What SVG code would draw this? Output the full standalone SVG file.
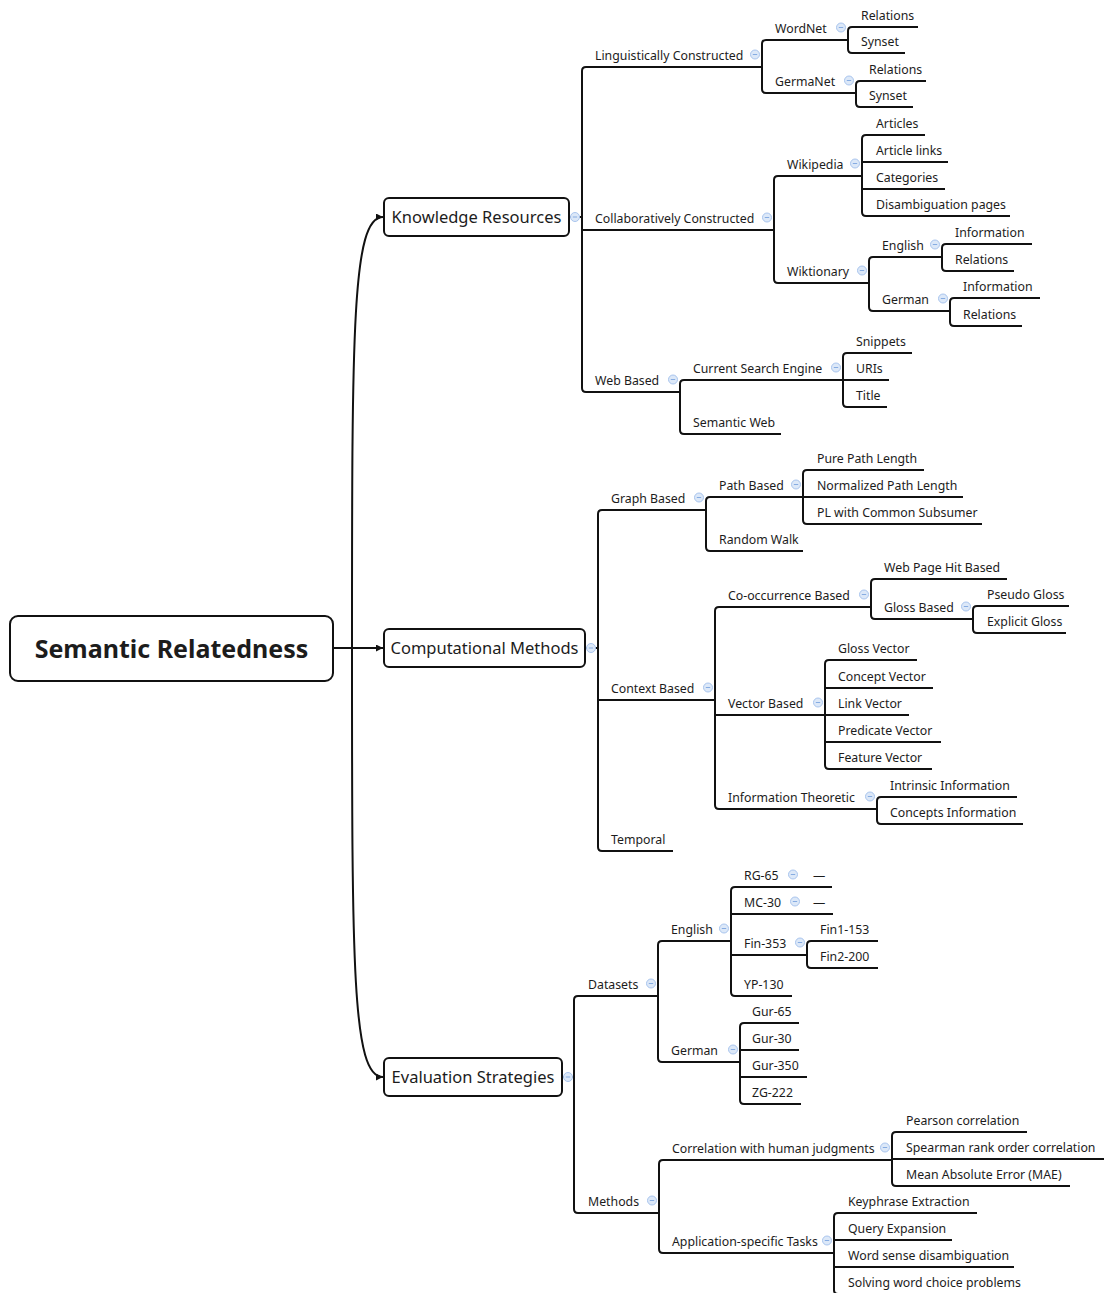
<svg xmlns="http://www.w3.org/2000/svg" xmlns:xlink="http://www.w3.org/1999/xlink" width="1104" height="1293" viewBox="0 0 1104 1293">
<style>
.t{font-family:"Noto Sans","Open Sans","DejaVu Sans",sans-serif;font-size:12.3px;fill:#1c1c1c}
.m{font-size:16.5px;text-anchor:middle}
.r{font-size:25px;font-weight:bold;text-anchor:middle}
.ln{fill:none;stroke:#111;stroke-width:2}
.box{fill:#fff;stroke:#111;stroke-width:2}
.ic circle{fill:#dce8f8;stroke:#a9c5ee;stroke-width:1}
.ic line{stroke:#86ace2;stroke-width:1}
</style>
<defs>
<marker id="arr" markerWidth="8" markerHeight="8" refX="7" refY="3.5" orient="auto" markerUnits="userSpaceOnUse"><path d="M0,0 L7,3.5 L0,7 z" fill="#111"/></marker>
<g id="ic" class="ic"><circle cx="0" cy="0" r="4.5"/><line x1="-2.2" y1="0" x2="2.2" y2="0"/></g>
</defs>
<rect width="1104" height="1293" fill="#fff"/>
<g id="connectors">
<path class="ln" marker-end="url(#arr)" d="M333,648 H383"/>
<path class="ln" marker-end="url(#arr)" d="M352,648 C352,330 352,217 383,217"/>
<path class="ln" marker-end="url(#arr)" d="M352,648 C352,966 352,1077 383,1077"/>
<path class="ln" d="M569,217 H582 M762,67 H586 Q582,67 582,71 V388 Q582,392 586,392 H680 M582,230 H774"/>
<path class="ln" d="M848,40 H766 Q762,40 762,44 V89 Q762,93 766,93 H856"/>
<path class="ln" d="M918,27 H852 Q848,27 848,31 V49 Q848,53 852,53 H905"/>
<path class="ln" d="M926,81 H860 Q856,81 856,85 V103 Q856,107 860,107 H913"/>
<path class="ln" d="M862,176 H778 Q774,176 774,180 V279 Q774,283 778,283 H869"/>
<path class="ln" d="M925,135 H866 Q862,135 862,139 V212 Q862,216 866,216 H1010 M862,162 H948 M862,189 H945"/>
<path class="ln" d="M942,257 H873 Q869,257 869,261 V307 Q869,311 873,311 H950"/>
<path class="ln" d="M1032,244 H946 Q942,244 942,248 V267 Q942,271 946,271 H1014"/>
<path class="ln" d="M1040,298 H954 Q950,298 950,302 V322 Q950,326 954,326 H1022"/>
<path class="ln" d="M843,380 H684 Q680,380 680,384 V430 Q680,434 684,434 H781"/>
<path class="ln" d="M912,353 H847 Q843,353 843,357 V403 Q843,407 847,407 H887 M843,380 H889"/>
<path class="ln" d="M585,648 H598 M706,510 H602 Q598,510 598,514 V847 Q598,851 602,851 H673 M598,700 H715"/>
<path class="ln" d="M803,497 H710 Q706,497 706,501 V547 Q706,551 710,551 H803"/>
<path class="ln" d="M924,470 H807 Q803,470 803,474 V520 Q803,524 807,524 H982 M803,497 H963"/>
<path class="ln" d="M871,607 H719 Q715,607 715,611 V805 Q715,809 719,809 H877 M715,715 H825"/>
<path class="ln" d="M1007,579 H875 Q871,579 871,583 V615 Q871,619 875,619 H973"/>
<path class="ln" d="M1069,606 H977 Q973,606 973,610 V629 Q973,633 977,633 H1066"/>
<path class="ln" d="M917,660 H829 Q825,660 825,664 V765 Q825,769 829,769 H932 M825,688 H933 M825,715 H909 M825,742 H941"/>
<path class="ln" d="M1017,797 H881 Q877,797 877,801 V820 Q877,824 881,824 H1023"/>
<path class="ln" d="M562,1077 H574 M658,996 H578 Q574,996 574,1000 V1209 Q574,1213 578,1213 H659"/>
<path class="ln" d="M731,941 H662 Q658,941 658,945 V1058 Q658,1062 662,1062 H740"/>
<path class="ln" d="M832,887 H735 Q731,887 731,891 V992 Q731,996 735,996 H792 M731,914 H833 M731,955 H807"/>
<path class="ln" d="M878,941 H811 Q807,941 807,945 V964 Q807,968 811,968 H878"/>
<path class="ln" d="M799,1023 H744 Q740,1023 740,1027 V1100 Q740,1104 744,1104 H801 M740,1050 H799 M740,1077 H807"/>
<path class="ln" d="M892,1160 H663 Q659,1160 659,1164 V1249 Q659,1253 663,1253 H834"/>
<path class="ln" d="M1027,1132 H896 Q892,1132 892,1136 V1182 Q892,1186 896,1186 H1070 M892,1159 H1104"/>
<path class="ln" d="M977,1213 H838 Q834,1213 834,1217 V1290 Q834,1294 838,1294 H1026 M834,1240 H952 M834,1267 H1014"/>
</g>
<g id="root"><rect class="box" x="10" y="616" width="323" height="65" rx="8"/><text class="t r" x="171.5" y="658">Semantic Relatedness</text></g>
<g id="kr"><rect class="box" x="384" y="198" width="185" height="38" rx="5"/><text class="t m" x="476.5" y="223">Knowledge Resources</text><use href="#ic" x="575" y="217"/></g>
<g id="cm"><rect class="box" x="384" y="629" width="201" height="38" rx="5"/><text class="t m" x="484.5" y="654">Computational Methods</text><use href="#ic" x="591" y="648"/></g>
<g id="es"><rect class="box" x="384" y="1058" width="178" height="38" rx="5"/><text class="t m" x="473" y="1083">Evaluation Strategies</text><use href="#ic" x="568" y="1077"/></g>

<g id="lc"><text class="t" x="595" y="59.5">Linguistically Constructed</text><use href="#ic" x="755" y="54.5"/></g>
<g id="wordnet"><text class="t" x="775" y="32.5">WordNet</text><use href="#ic" x="841" y="27.5"/></g>
<g id="wn-rel"><text class="t" x="861" y="19.5">Relations</text></g>
<g id="wn-syn"><text class="t" x="861" y="45.5">Synset</text></g>
<g id="germanet"><text class="t" x="775" y="85.5">GermaNet</text><use href="#ic" x="849" y="80.5"/></g>
<g id="gn-rel"><text class="t" x="869" y="73.5">Relations</text></g>
<g id="gn-syn"><text class="t" x="869" y="99.5">Synset</text></g>
<g id="cc"><text class="t" x="595" y="222.5">Collaboratively Constructed</text><use href="#ic" x="767" y="217.5"/></g>
<g id="wikipedia"><text class="t" x="787" y="168.5">Wikipedia</text><use href="#ic" x="855" y="163.5"/></g>
<g id="wp-art"><text class="t" x="876" y="127.5">Articles</text></g>
<g id="wp-links"><text class="t" x="876" y="154.5">Article links</text></g>
<g id="wp-cat"><text class="t" x="876" y="181.5">Categories</text></g>
<g id="wp-dis"><text class="t" x="876" y="208.5">Disambiguation pages</text></g>
<g id="wiktionary"><text class="t" x="787" y="275.5">Wiktionary</text><use href="#ic" x="862" y="270.5"/></g>
<g id="wk-en"><text class="t" x="882" y="249.5">English</text><use href="#ic" x="935" y="244.5"/></g>
<g id="wk-en-info"><text class="t" x="955" y="236.5">Information</text></g>
<g id="wk-en-rel"><text class="t" x="955" y="263.5">Relations</text></g>
<g id="wk-de"><text class="t" x="882" y="303.5">German</text><use href="#ic" x="943" y="298.5"/></g>
<g id="wk-de-info"><text class="t" x="963" y="290.5">Information</text></g>
<g id="wk-de-rel"><text class="t" x="963" y="318.5">Relations</text></g>
<g id="wb"><text class="t" x="595" y="384.5">Web Based</text><use href="#ic" x="673" y="379.5"/></g>
<g id="cse"><text class="t" x="693" y="372.5">Current Search Engine</text><use href="#ic" x="836" y="367.5"/></g>
<g id="snip"><text class="t" x="856" y="345.5">Snippets</text></g>
<g id="uris"><text class="t" x="856" y="372.5">URIs</text></g>
<g id="title"><text class="t" x="856" y="399.5">Title</text></g>
<g id="semweb"><text class="t" x="693" y="426.5">Semantic Web</text></g>

<g id="gb"><text class="t" x="611" y="502.5">Graph Based</text><use href="#ic" x="699" y="497.5"/></g>
<g id="pb"><text class="t" x="719" y="489.5">Path Based</text><use href="#ic" x="796" y="484.5"/></g>
<g id="ppl"><text class="t" x="817" y="462.5">Pure Path Length</text></g>
<g id="npl"><text class="t" x="817" y="489.5">Normalized Path Length</text></g>
<g id="plcs"><text class="t" x="817" y="516.5">PL with Common Subsumer</text></g>
<g id="rw"><text class="t" x="719" y="543.5">Random Walk</text></g>
<g id="cb"><text class="t" x="611" y="692.5">Context Based</text><use href="#ic" x="708" y="687.5"/></g>
<g id="cob"><text class="t" x="728" y="599.5">Co-occurrence Based</text><use href="#ic" x="864" y="594.5"/></g>
<g id="wphb"><text class="t" x="884" y="571.5">Web Page Hit Based</text></g>
<g id="glb"><text class="t" x="884" y="611.5">Gloss Based</text><use href="#ic" x="966" y="606.5"/></g>
<g id="pg"><text class="t" x="987" y="598.5">Pseudo Gloss</text></g>
<g id="eg"><text class="t" x="987" y="625.5">Explicit Gloss</text></g>
<g id="vb"><text class="t" x="728" y="707.5">Vector Based</text><use href="#ic" x="818" y="702.5"/></g>
<g id="gv"><text class="t" x="838" y="652.5">Gloss Vector</text></g>
<g id="cv"><text class="t" x="838" y="680.5">Concept Vector</text></g>
<g id="lv"><text class="t" x="838" y="707.5">Link Vector</text></g>
<g id="pv"><text class="t" x="838" y="734.5">Predicate Vector</text></g>
<g id="fv"><text class="t" x="838" y="761.5">Feature Vector</text></g>
<g id="it"><text class="t" x="728" y="801.5">Information Theoretic</text><use href="#ic" x="870" y="796.5"/></g>
<g id="ii"><text class="t" x="890" y="789.5">Intrinsic Information</text></g>
<g id="ci"><text class="t" x="890" y="816.5">Concepts Information</text></g>
<g id="temporal"><text class="t" x="611" y="843.5">Temporal</text></g>

<g id="ds"><text class="t" x="588" y="988.5">Datasets</text><use href="#ic" x="651" y="983.5"/></g>
<g id="ds-en"><text class="t" x="671" y="933.5">English</text><use href="#ic" x="724" y="928.5"/></g>
<g id="rg65"><text class="t" x="744" y="879.5">RG-65</text><use href="#ic" x="793" y="874.5"/><text class="t" x="813" y="879.5">—</text></g>
<g id="mc30"><text class="t" x="744" y="906.5">MC-30</text><use href="#ic" x="795" y="901.5"/><text class="t" x="813" y="906.5">—</text></g>
<g id="fin353"><text class="t" x="744" y="947.5">Fin-353</text><use href="#ic" x="800" y="942.5"/></g>
<g id="fin1"><text class="t" x="820" y="933.5">Fin1-153</text></g>
<g id="fin2"><text class="t" x="820" y="960.5">Fin2-200</text></g>
<g id="yp130"><text class="t" x="744" y="988.5">YP-130</text></g>
<g id="ds-de"><text class="t" x="671" y="1054.5">German</text><use href="#ic" x="733" y="1049.5"/></g>
<g id="gur65"><text class="t" x="752" y="1015.5">Gur-65</text></g>
<g id="gur30"><text class="t" x="752" y="1042.5">Gur-30</text></g>
<g id="gur350"><text class="t" x="752" y="1069.5">Gur-350</text></g>
<g id="zg222"><text class="t" x="752" y="1096.5">ZG-222</text></g>
<g id="methods"><text class="t" x="588" y="1205.5">Methods</text><use href="#ic" x="652" y="1200.5"/></g>
<g id="chj"><text class="t" x="672" y="1152.5">Correlation with human judgments</text><use href="#ic" x="885" y="1147.5"/></g>
<g id="pearson"><text class="t" x="906" y="1124.5">Pearson correlation</text></g>
<g id="spearman"><text class="t" x="906" y="1151.5">Spearman rank order correlation</text></g>
<g id="mae"><text class="t" x="906" y="1178.5">Mean Absolute Error (MAE)</text></g>
<g id="ast"><text class="t" x="672" y="1245.5">Application-specific Tasks</text><use href="#ic" x="827" y="1240.5"/></g>
<g id="ke"><text class="t" x="848" y="1205.5">Keyphrase Extraction</text></g>
<g id="qe"><text class="t" x="848" y="1232.5">Query Expansion</text></g>
<g id="wsd"><text class="t" x="848" y="1259.5">Word sense disambiguation</text></g>
<g id="swcp"><text class="t" x="848" y="1286.5">Solving word choice problems</text></g>
</svg>
